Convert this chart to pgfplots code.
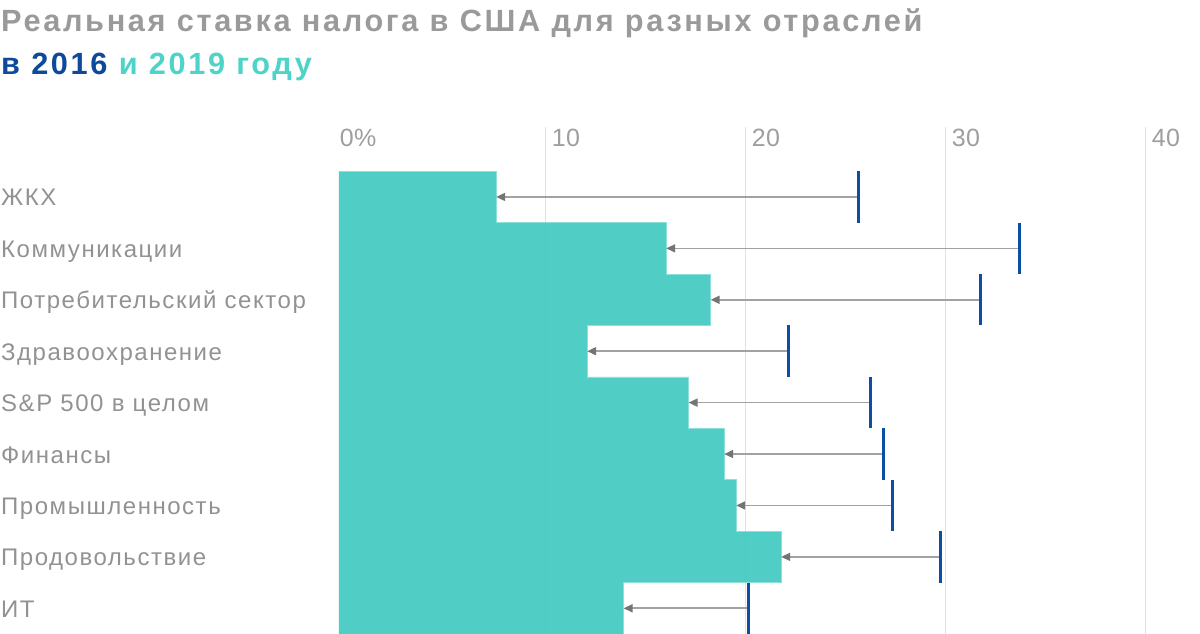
\documentclass[border=0pt]{standalone}
\usepackage{fontspec}
\setmainfont{Liberation Sans}
\usepackage{pgfplots}
\usepackage{pgfplotstable}
\pgfplotsset{compat=1.18}
\usetikzlibrary{arrows.meta}

\definecolor{titlegray}{HTML}{9A9A9A}
\definecolor{labgray}{HTML}{929292}
\definecolor{tickgray}{HTML}{9E9E9E}
\definecolor{barteal}{HTML}{41CAC1}
\definecolor{tealtxt}{HTML}{4ED3C8}
\definecolor{blue16}{HTML}{0A4FA3}
\definecolor{bluetxt}{HTML}{0D4A9A}
\definecolor{arrowgray}{HTML}{A2A2A2}
\definecolor{headgray}{HTML}{747474}

% row 0 = top; v2016 = blue tick, v2019 = teal bar
\pgfplotstableread{
row v2016 v2019
0 25.63 7.53
1 33.70 16.03
2 31.73 18.25
3 22.13 12.08
4 26.23 17.15
5 26.90 18.93
6 27.33 19.53
7 29.75 21.78
8 20.15 13.90
}\taxdata

\newcommand\labfont{\fontsize{24}{28}\selectfont\addfontfeatures{LetterSpace=6.4}}
\newcommand\tickfont{\fontsize{25}{30}\selectfont\addfontfeatures{LetterSpace=2}}
\newcommand\titlefont{\fontsize{30.7}{36}\selectfont\bfseries\addfontfeatures{LetterSpace=8.7}}

\begin{document}
\begin{tikzpicture}[x=1pt,y=1pt]
\useasboundingbox (0,0) rectangle (1200,634);

\node[anchor=base west, inner sep=0, font=\titlefont, text=titlegray]
  at (1,602) {Реальная ставка налога в США для разных отраслей};
\node[anchor=base west, inner sep=0, font=\titlefont]
  at (1,559) {\textcolor{bluetxt}{в 2016} \textcolor{tealtxt}{и 2019 году}};

\begin{axis}[
    at={(339pt,0pt)}, anchor=south west,
    scale only axis,
    width=806.6pt, height=507pt,
    xmin=-0.33, xmax=40,
    ymin=-1.36, ymax=8.5,
    y dir=reverse,
    clip=false,
    axis line style={draw=none},
    major tick length=0pt,
    xtick={10,20,30,40},
    xticklabels={10,20,30,40},
    xticklabel pos=upper,
    xmajorgrids,
    grid style={line width=1.4pt, color=black!12},
    xticklabel style={anchor=base west, inner sep=0pt, xshift=6pt, yshift=-19pt,
                      font=\tickfont, text=tickgray},
    extra x ticks={0},
    extra x tick labels={0\%},
    extra x tick style={grid=none, xticklabel style={xshift=-12pt}},
    ytick={0,...,8},
    yticklabels={ЖКХ, Коммуникации, Потребительский сектор, Здравоохранение,
                 S\&P 500 в целом, Финансы, Промышленность, Продовольствие, ИТ},
    yticklabel style={anchor=base west, inner sep=0pt, xshift=-338pt, yshift=-9pt,
                      font=\labfont, text=labgray},
  ]

  % 2019: stepped teal area
  \addplot[fill=barteal, fill opacity=0.92, draw=barteal!60!white, line width=0.6pt]
    coordinates {
    (-0.33,-0.5) (7.53,-0.5) (7.53,0.5) (16.03,0.5) (16.03,1.5)
    (18.25,1.5) (18.25,2.5) (12.08,2.5) (12.08,3.5) (17.15,3.5)
    (17.15,4.5) (18.93,4.5) (18.93,5.5) (19.53,5.5) (19.53,6.5)
    (21.78,6.5) (21.78,7.5) (13.90,7.5) (13.90,8.5) (-0.33,8.5)
  };

  % arrows from 2016 to 2019
  \addplot[quiver={u=\thisrow{v2019}-\thisrow{v2016}, v=0},
           draw=arrowgray, line width=1.7pt,
           -{Triangle[length=9pt, width=8pt, color=headgray]}]
    table[x=v2016, y=row] {\taxdata};

  % 2016 ticks
  \addplot[only marks, mark=|, mark size=25.7pt,
           mark options={line width=3.2pt, draw=blue16}]
    table[x=v2016, y=row] {\taxdata};

\end{axis}
\end{tikzpicture}
\end{document}
